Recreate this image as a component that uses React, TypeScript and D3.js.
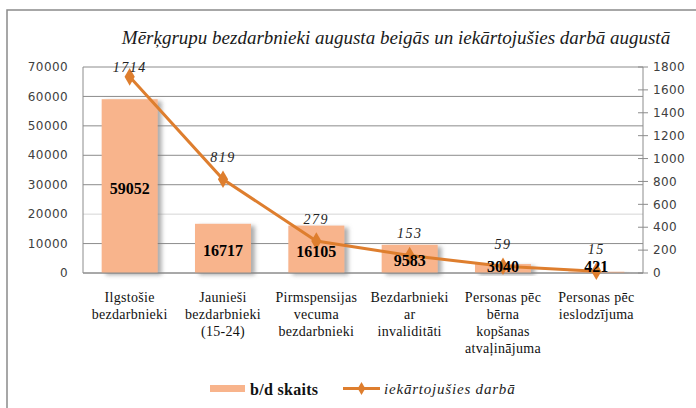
import React from "react";
import * as d3 from "d3";

const categories: string[][] = [
  ["Ilgstošie", "bezdarbnieki"],
  ["Jaunieši", "bezdarbnieki", "(15-24)"],
  ["Pirmspensijas", "vecuma", "bezdarbnieki"],
  ["Bezdarbnieki", "ar", "invaliditāti"],
  ["Personas pēc", "bērna", "kopšanas", "atvaļinājuma"],
  ["Personas pēc", "ieslodzījuma"],
];
const unemployed = [59052, 16717, 16105, 9583, 3040, 421];
const employed = [1714, 819, 279, 153, 59, 15];
const leftTicks = [0, 10000, 20000, 30000, 40000, 50000, 60000, 70000];
const rightTicks = [0, 200, 400, 600, 800, 1000, 1200, 1400, 1600, 1800];
const title = "Mērķgrupu bezdarbnieki augusta beigās un iekārtojušies darbā augustā";
const legendBar = "b/d skaits";
const legendLine = "iekārtojušies darbā";

const W = 696, H = 408;
const plot = { left: 83, right: 643, top: 67, bottom: 273 };
const barColor = "#F8B48C";
const lineColor = "#DE7E2E";
const serif = "Liberation Serif";
const sans = "DejaVu Sans";

export default function App() {
  const idx = categories.map((_, i) => i);
  const x = d3.scaleBand<number>().domain(idx).range([plot.left, plot.right]).paddingInner(0.4).paddingOuter(0.2);
  const xc = (i: number) => (x(i) as number) + x.bandwidth() / 2;
  const yL = d3.scaleLinear().domain([0, 70000]).range([plot.bottom, plot.top]);
  const yR = d3.scaleLinear().domain([0, 1800]).range([plot.bottom, plot.top]);
  const line = d3.line<number>().x((_, i) => xc(i)).y((d) => yR(d));

  return (
    <svg width={W} height={H} style={{ position: "absolute", left: 0, top: 0, background: "#fff" }}>
      <defs>
        <filter id="shadow" x="-20%" y="-20%" width="150%" height="150%">
          <feDropShadow dx="4" dy="2" stdDeviation="2" floodColor="#777" floodOpacity="0.6" />
        </filter>
      </defs>
      <rect x={0} y={0} width={W} height={H} fill="#fff" />
      <rect x={7} y={10} width={W + 10} height={H + 10} fill="none" stroke="#8a8a8a" strokeWidth={1.5} />
      <text x={396} y={44} textAnchor="middle" fontFamily={serif} fontStyle="italic" fontSize={19} fill="#1a1a1a">
        {title}
      </text>

      {leftTicks.map((t) => (
        <line key={"g" + t} x1={plot.left} x2={plot.right} y1={yL(t)} y2={yL(t)} stroke={t === 20000 ? "#d6d6d6" : "#8c8c8c"} strokeWidth={1} />
      ))}
      <line x1={plot.left} x2={plot.left} y1={plot.top} y2={plot.bottom} stroke="#8c8c8c" />
      <line x1={plot.right} x2={plot.right} y1={plot.top} y2={plot.bottom} stroke="#8c8c8c" />
      {rightTicks.map((t) => (
        <line key={"rt" + t} x1={plot.right - 5} x2={plot.right + 5} y1={yR(t)} y2={yR(t)} stroke="#8c8c8c" />
      ))}

      {leftTicks.map((t) => (
        <text key={"l" + t} x={68} y={yL(t)} dy="0.35em" textAnchor="end" fontFamily={sans} fontSize={12} letterSpacing={0.4} fill="#404040">
          {t}
        </text>
      ))}
      {rightTicks.map((t) => (
        <text key={"r" + t} x={653} y={yR(t)} dy="0.35em" textAnchor="start" fontFamily={sans} fontSize={12} letterSpacing={0.4} fill="#404040">
          {t}
        </text>
      ))}

      {unemployed.map((v, i) => (
        <rect key={"b" + i} x={x(i)} y={yL(v)} width={x.bandwidth()} height={plot.bottom - yL(v)} fill={barColor} filter="url(#shadow)" />
      ))}
      <line x1={plot.left} x2={plot.right} y1={plot.bottom} y2={plot.bottom} stroke="#8c8c8c" />

      <path d={line(employed) || ""} fill="none" stroke={lineColor} strokeWidth={3} />
      {employed.map((v, i) => (
        <path key={"m" + i} d={d3.symbol(d3.symbolDiamond, 90)() || ""} transform={`translate(${xc(i)},${yR(v)})`} fill={lineColor} />
      ))}

      {unemployed.map((v, i) => {
        const c = (yL(v) + plot.bottom) / 2 + 2;
        return (
          <text key={"bl" + i} x={xc(i)} y={Math.min(c, plot.bottom - 7)} dy="0.35em" textAnchor="middle" fontFamily={serif} fontWeight="bold" fontSize={16} fill="#000">
            {v}
          </text>
        );
      })}
      {employed.map((v, i) => (
        <text key={"ll" + i} x={xc(i)} y={Math.max(yR(v) - 22, plot.top)} dy="0.35em" textAnchor="middle" fontFamily={serif} fontStyle="italic" fontSize={14} letterSpacing={1.5} fill="#222">
          {v}
        </text>
      ))}

      {categories.map((lines, i) => (
        <text key={"c" + i} textAnchor="middle" fontFamily={serif} fontSize={14} letterSpacing={0.3} fill="#111">
          {lines.map((s, j) => (
            <tspan key={j} x={xc(i)} y={297 + j * 17} dy="0.35em">
              {s}
            </tspan>
          ))}
        </text>
      ))}

      <rect x={210} y={385} width={35} height={7} fill={barColor} />
      <text x={250} y={389} dy="0.35em" fontFamily={serif} fontWeight="bold" fontSize={16} letterSpacing={0.3} fill="#111">
        {legendBar}
      </text>
      <line x1={343} x2={380} y1={388.5} y2={388.5} stroke={lineColor} strokeWidth={3} />
      <path d={d3.symbol(d3.symbolDiamond, 50)() || ""} transform="translate(361.5,388.5)" fill={lineColor} />
      <text x={384} y={389} dy="0.35em" fontFamily={serif} fontStyle="italic" fontSize={15} letterSpacing={0.8} fill="#222">
        {legendLine}
      </text>
    </svg>
  );
}
